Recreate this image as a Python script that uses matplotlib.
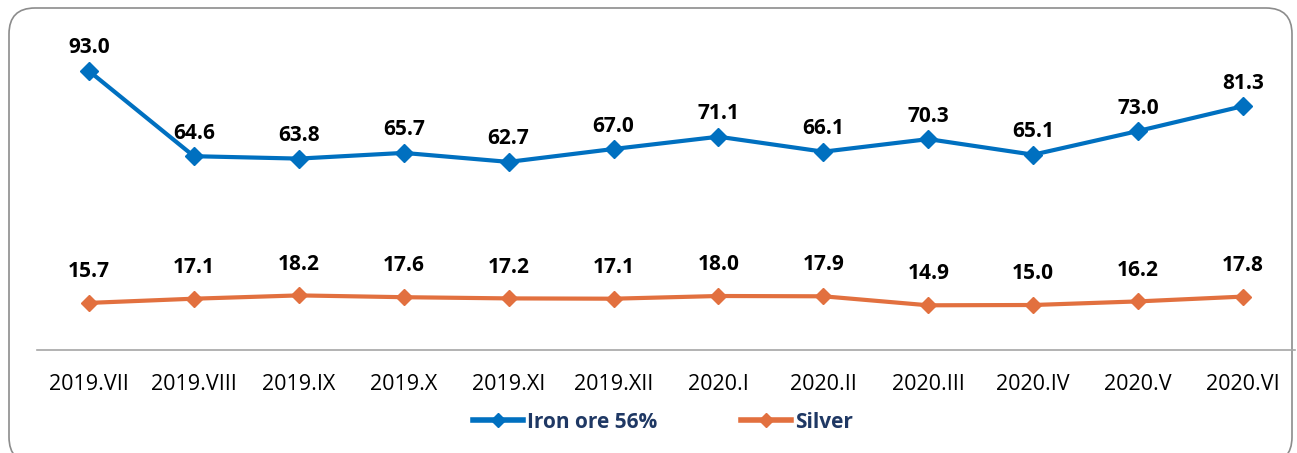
import matplotlib.pyplot as plt
from matplotlib.patches import FancyBboxPatch
from matplotlib.lines import Line2D

plt.rcParams['font.family'] = ['Open Sans', 'DejaVu Sans']

# Data
months = ["2019.VII", "2019.VIII", "2019.IX", "2019.X", "2019.XI", "2019.XII",
          "2020.I", "2020.II", "2020.III", "2020.IV", "2020.V", "2020.VI"]
iron_ore = [93.0, 64.6, 63.8, 65.7, 62.7, 67.0, 71.1, 66.1, 70.3, 65.1, 73.0, 81.3]
silver = [15.7, 17.1, 18.2, 17.6, 17.2, 17.1, 18.0, 17.9, 14.9, 15.0, 16.2, 17.8]

blue = "#0070C0"
orange = "#E2703F"

W, H = 1297, 453
fig = plt.figure(figsize=(W / 100, H / 100), dpi=100)

# rounded frame
frame = FancyBboxPatch((9 / W, -10 / H), 1283 / W, (H - 8 + 10) / H,
                       boxstyle="round,pad=0,rounding_size=0.02",
                       transform=fig.transFigure, facecolor="none",
                       edgecolor="#8C8C8C", linewidth=1.2,
                       mutation_aspect=W / H, zorder=-10)
fig.patches.append(frame)

ax = fig.add_axes([36.5 / W, (H - 350) / H, 1259 / W, 300 / H])
ax.set_facecolor("none")
x = list(range(len(months)))

ax.plot(x, iron_ore, color=blue, lw=3, marker="D", ms=9, zorder=3, clip_on=False)
ax.plot(x, silver, color=orange, lw=3, marker="D", ms=8, zorder=3, clip_on=False)

for xi, v in zip(x, iron_ore):
    ax.annotate(f"{v:.1f}", (xi, v), xytext=(0, 9), textcoords="offset points",
                ha="center", va="bottom", fontsize=15, fontweight="bold", color="black")
for xi, v in zip(x, silver):
    ax.annotate(f"{v:.1f}", (xi, v), xytext=(0, 15), textcoords="offset points",
                ha="center", va="bottom", fontsize=15, fontweight="bold", color="black")

ax.set_xlim(-0.5, 11.5)
ax.set_ylim(0, 100)
ax.set_xticks(x)
ax.set_xticklabels(months, fontsize=15.5)
ax.tick_params(axis="x", length=0, pad=17)
ax.set_yticks([])
for s in ["top", "right", "left"]:
    ax.spines[s].set_visible(False)
ax.spines["bottom"].set_color("#A6A6A6")
ax.spines["bottom"].set_linewidth(1.2)

handles = [Line2D([], [], color=blue, lw=4, marker="D", ms=7),
           Line2D([], [], color=orange, lw=4, marker="D", ms=7)]
leg = fig.legend(handles, ["Iron ore 56%", "Silver"], loc="center",
                 bbox_to_anchor=(0.511, 1 - 422 / H), ncol=2, frameon=False,
                 handlelength=2.4, handletextpad=0.2, columnspacing=4.0,
                 prop={"size": 15, "weight": "bold"})
for t in leg.get_texts():
    t.set_color("#1F3864")

fig.savefig("out.png", dpi=100)
